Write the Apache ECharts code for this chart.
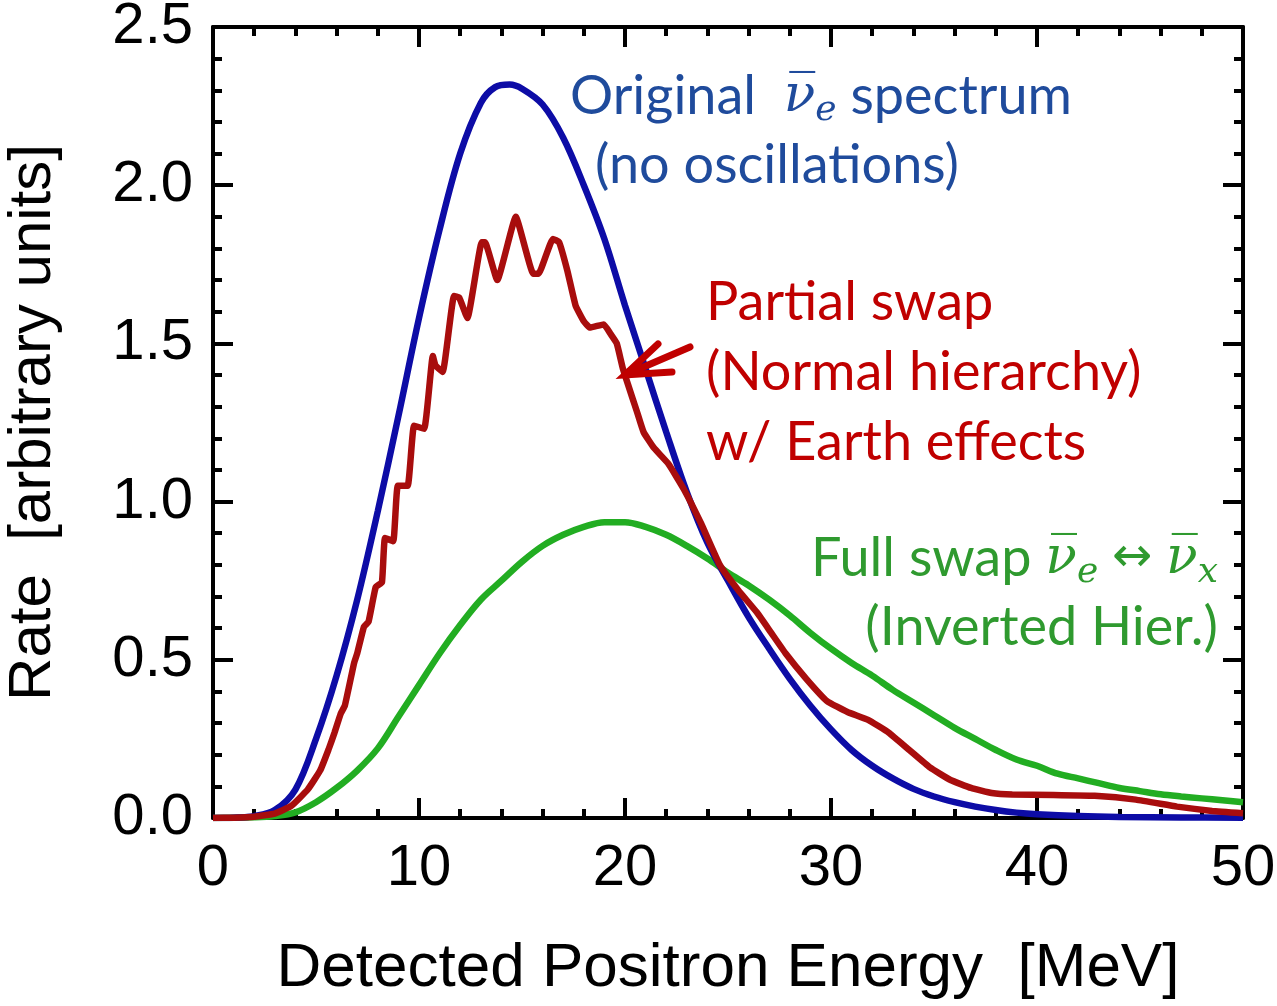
<!DOCTYPE html>
<html><head><meta charset="utf-8">
<script src="https://cdn.jsdelivr.net/npm/echarts@6/dist/echarts.min.js"></script>
<style>html,body{margin:0;padding:0;background:#fff}#c{width:1277px;height:1006px}</style>
</head><body><div id="c"></div>
<script>
// ---- data ----
const xTickLabels = ['0', '10', '20', '30', '40', '50'];
const yTickLabels = ['0.0', '0.5', '1.0', '1.5', '2.0', '2.5'];

// Original anti-nu_e spectrum (no oscillations)  [E (MeV), rate]
const originalSpectrum = [
  [0,0],[1,0.001],[2,0.006],[3,0.025],[4,0.09],[5,0.25],[6,0.45],[7,0.69],[8,0.97],[9,1.27],
  [10,1.58],[11,1.86],[12,2.1],[13,2.26],[13.7,2.31],[14.4,2.318],[15,2.305],[16,2.255],[17,2.15],
  [18,2.0],[19,1.83],[20,1.62],[21,1.42],[22,1.22],[23,1.03],[24,0.87],[25,0.75],[26,0.635],
  [27,0.535],[28,0.44],[29,0.355],[30,0.28],[31,0.215],[32,0.165],[33,0.125],[34,0.092],
  [35,0.068],[36,0.05],[37,0.036],[38,0.025],[39,0.017],[40,0.012],[42,0.006],[44,0.003],
  [47,0.0015],[50,0.001]
];

// Partial swap (normal hierarchy) with Earth effects
const partialSwap = [
  [0,0],[1,0.001],[2,0.004],[3,0.014],[3.8,0.038],[4.6,0.09],[5.2,0.15],[5.6,0.215],[5.9,0.27],
  [6.2,0.33],[6.4,0.355],[6.85,0.49],[7.0,0.52],[7.33,0.605],[7.55,0.62],[7.9,0.73],[8.2,0.745],
  [8.35,0.885],[8.75,0.875],[8.97,1.05],[9.45,1.05],[9.76,1.24],[10.25,1.23],[10.67,1.46],
  [10.8,1.43],[11.15,1.41],[11.7,1.65],[11.95,1.645],[12.35,1.58],[13.05,1.82],[13.2,1.82],
  [13.8,1.70],[14.7,1.90],[15.55,1.72],[15.8,1.72],[16.5,1.83],[16.8,1.82],[17.2,1.73],
  [17.6,1.62],[18.0,1.57],[18.3,1.55],[18.97,1.56],[19.3,1.53],[19.6,1.50],[19.9,1.42],
  [20.6,1.28],[20.9,1.22],[21.4,1.17],[22.1,1.12],[22.85,1.04],[23.7,0.93],[24.6,0.80],
  [25.5,0.72],[26.4,0.65],[27.1,0.585],[27.8,0.52],[28.8,0.44],[29.8,0.37],[30.8,0.335],
  [31.8,0.31],[32.8,0.27],[33.8,0.215],[34.8,0.16],[35.8,0.12],[36.8,0.095],[37.8,0.079],
  [38.8,0.074],[40.8,0.073],[42.8,0.07],[44.8,0.058],[46.8,0.036],[48.5,0.022],[50,0.015]
];

// Full swap (inverted hierarchy)
const fullSwap = [
  [0,0],[2,0.002],[3,0.006],[4,0.018],[5,0.05],[6,0.095],[7,0.15],[8,0.22],[9,0.32],[10,0.42],
  [11,0.52],[12,0.61],[13,0.69],[14,0.75],[15,0.81],[16,0.86],[17,0.895],[18,0.92],[19,0.935],
  [20,0.935],[21,0.92],[22,0.895],[23,0.86],[24,0.82],[25,0.775],[26,0.735],[27,0.69],[28,0.64],
  [29,0.585],[30,0.535],[31,0.49],[32,0.45],[33,0.405],[34,0.365],[35,0.325],[36,0.285],
  [37,0.25],[38,0.215],[39,0.185],[40,0.165],[41,0.14],[42,0.125],[43,0.11],[44,0.095],
  [45,0.085],[46,0.075],[47,0.068],[48,0.062],[49,0.056],[50,0.05]
];

// ---- chart ----
const chart = echarts.init(document.getElementById('c'), null, {renderer: 'canvas'});
const axisFont = 'Liberation Sans';
const tickStyle = {
  axisLine: {show: true, onZero: false, lineStyle: {color: '#000', width: 4}},
  axisTick: {show: true, inside: true, length: 20, lineStyle: {color: '#000', width: 4}},
  minorTick: {show: true, splitNumber: 5, length: 9, lineStyle: {color: '#000', width: 4}},
  splitLine: {show: false}
};
const NU = 'ν\u0305';
const rich = (color, size) => ({
  nu: {fontFamily: 'DejaVu Serif', fontStyle: 'italic', fontSize: size - 2, fill: color, lineHeight: 62},
  sub: {fontFamily: 'DejaVu Serif', fontStyle: 'italic', fontSize: Math.round(size * 0.66), fill: color,
        lineHeight: 30, padding: [28, 0, 0, 0]},
  ar: {fontFamily: 'DejaVu Sans', fontSize: size - 6, fill: color, lineHeight: 62}
});
const txt = (x, y, text, color, align, size) => ({
  type: 'text', x: x, y: y, silent: true,
  style: {text: text, fill: color, fontFamily: 'Lato', fontSize: size, lineHeight: 62,
          align: align, verticalAlign: 'middle', rich: rich(color, size)}
});
const blueT = '#1f4b9c', redT = '#c00000', greenT = '#2f9a2f';

chart.setOption({
  animation: false,
  backgroundColor: '#fff',
  grid: {left: 213, right: 34, top: 27, bottom: 188, containLabel: false, outerBoundsMode: 'none'},
  xAxis: [
    Object.assign({
      type: 'value', min: 0, max: 50, interval: 10, position: 'bottom',
      axisLabel: {fontSize: 58, fontFamily: axisFont, color: '#000', margin: 22,
                  formatter: v => xTickLabels[Math.round(v / 10)]},
      name: 'Detected Positron Energy  [MeV]', nameLocation: 'middle', nameGap: 120,
      nameTextStyle: {fontSize: 62, fontFamily: axisFont, color: '#000'}
    }, tickStyle),
    Object.assign({
      type: 'value', min: 0, max: 50, interval: 10, position: 'top',
      axisLabel: {show: false}
    }, tickStyle)
  ],
  yAxis: [
    Object.assign({
      type: 'value', min: 0, max: 2.5, interval: 0.5, position: 'left',
      axisLabel: {fontSize: 58, fontFamily: axisFont, color: '#000', margin: 20,
                  formatter: v => yTickLabels[Math.round(v / 0.5)]},
      name: 'Rate  [arbitrary units]', nameLocation: 'middle', nameGap: 150,
      nameTextStyle: {fontSize: 60, fontFamily: axisFont, color: '#000'}
    }, tickStyle),
    Object.assign({
      type: 'value', min: 0, max: 2.5, interval: 0.5, position: 'right',
      axisLabel: {show: false}
    }, tickStyle)
  ],
  series: [
    {type: 'line', name: 'Full swap', data: fullSwap, symbol: 'none', smooth: 0.35,
     lineStyle: {color: '#22ad22', width: 6.5}, z: 2},
    {type: 'line', name: 'Original', data: originalSpectrum, symbol: 'none', smooth: 0.35,
     lineStyle: {color: '#0d0ca6', width: 6.5}, z: 3},
    {type: 'line', name: 'Partial swap', data: partialSwap, symbol: 'none', smooth: 0.12,
     lineStyle: {color: '#a80d0d', width: 6.5}, z: 4}
  ],
  graphic: [
    txt(570, 97, 'Original  {nu|' + NU + '}{sub|e} spectrum', blueT, 'left', 54),
    txt(595, 166, '(no oscillations)', blueT, 'left', 54),
    txt(706, 303, 'Partial swap', redT, 'left', 54),
    txt(706, 373, '(Normal hierarchy)', redT, 'left', 54),
    txt(706, 443, 'w/ Earth effects', redT, 'left', 54),
    txt(1218, 559, 'Full swap {nu|' + NU + '}{sub|e} {ar|↔} {nu|' + NU + '}{sub|x}', greenT, 'right', 54),
    txt(1218, 628, '(Inverted Hier.)', greenT, 'right', 54),
    {type: 'polyline', silent: true, shape: {points: [[690, 347], [625, 375]]},
     style: {stroke: redT, lineWidth: 7, lineCap: 'round', fill: null}, z: 10},
    {type: 'polyline', silent: true, shape: {points: [[658, 344], [625, 375], [672, 372]]},
     style: {stroke: redT, lineWidth: 7, lineCap: 'round', lineJoin: 'miter', fill: null}, z: 10}
  ]
});
</script>
</body></html>
